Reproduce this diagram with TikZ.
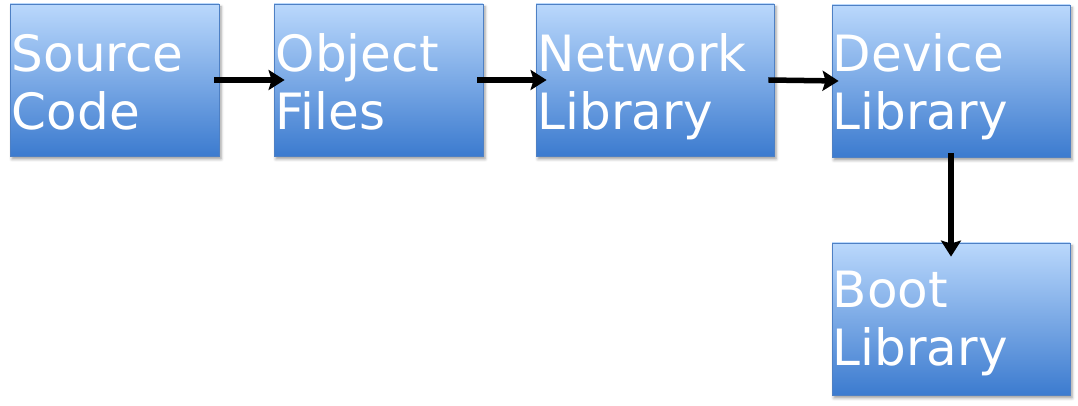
\documentclass[tikz,border=0pt]{standalone}
\usepackage{fontspec}
\setmainfont{DejaVu Sans}
\usetikzlibrary{arrows.meta,shadows,shadows.blur}
\definecolor{topc}{RGB}{186,216,252}
\definecolor{botc}{RGB}{60,123,207}
\definecolor{edgec}{RGB}{78,128,196}
\tikzset{
  box/.style={draw=edgec, line width=0.8pt, top color=topc, bottom color=botc,
    minimum height=152pt, inner sep=0pt,
    blur shadow={shadow xshift=2pt, shadow yshift=-3pt, shadow blur radius=3pt, shadow opacity=40}},
  lbl/.style={text=white, inner sep=0pt, anchor=base west,
    font=\fontsize{50}{58}\selectfont},
  arr/.style={line width=5.5pt, -{Stealth[length=16pt,width=20pt,inset=3pt]}}
}
\begin{document}
\begin{tikzpicture}[x=1pt,y=1pt]
\useasboundingbox (0,0) rectangle (1078,406);
\node[box, minimum width=209pt] (src) at (114.5,326) {};
\node[box, minimum width=209pt] (obj) at (378.5,326) {};
\node[box, minimum width=238pt] (net) at (655,326) {};
\node[box, minimum width=238pt] (dev) at (951,325) {};
\node[box, minimum width=238pt] (boot) at (951,87) {};
\node[lbl] (tsrc) at ([xshift=2pt,yshift=-68pt]src.north west) {\begin{tabular}[t]{@{}l@{}}Source\\Code\end{tabular}};
\node[lbl] (tobj) at ([xshift=2pt,yshift=-68pt]obj.north west) {\begin{tabular}[t]{@{}l@{}}Object\\Files\end{tabular}};
\node[lbl] (tnet) at ([xshift=2pt,yshift=-68pt]net.north west) {\begin{tabular}[t]{@{}l@{}}Network\\Library\end{tabular}};
\node[lbl] (tdev) at ([xshift=1pt,yshift=-67pt]dev.north west) {\begin{tabular}[t]{@{}l@{}}Device\\Library\end{tabular}};
\node[lbl] (tboot) at ([xshift=1pt,yshift=-65pt]boot.north west) {\begin{tabular}[t]{@{}l@{}}Boot\\Library\end{tabular}};
\draw[arr] ([xshift=-5pt]src.east) -- ([xshift=11pt]obj.west);
\draw[arr] ([xshift=-6pt]obj.east) -- ([xshift=11pt]net.west);
\draw[arr] ([xshift=-6pt]net.east) -- ([xshift=7pt]dev.west);
\draw[arr] ([yshift=4pt]dev.south) -- ([yshift=-14pt]boot.north);
\end{tikzpicture}
\end{document}
